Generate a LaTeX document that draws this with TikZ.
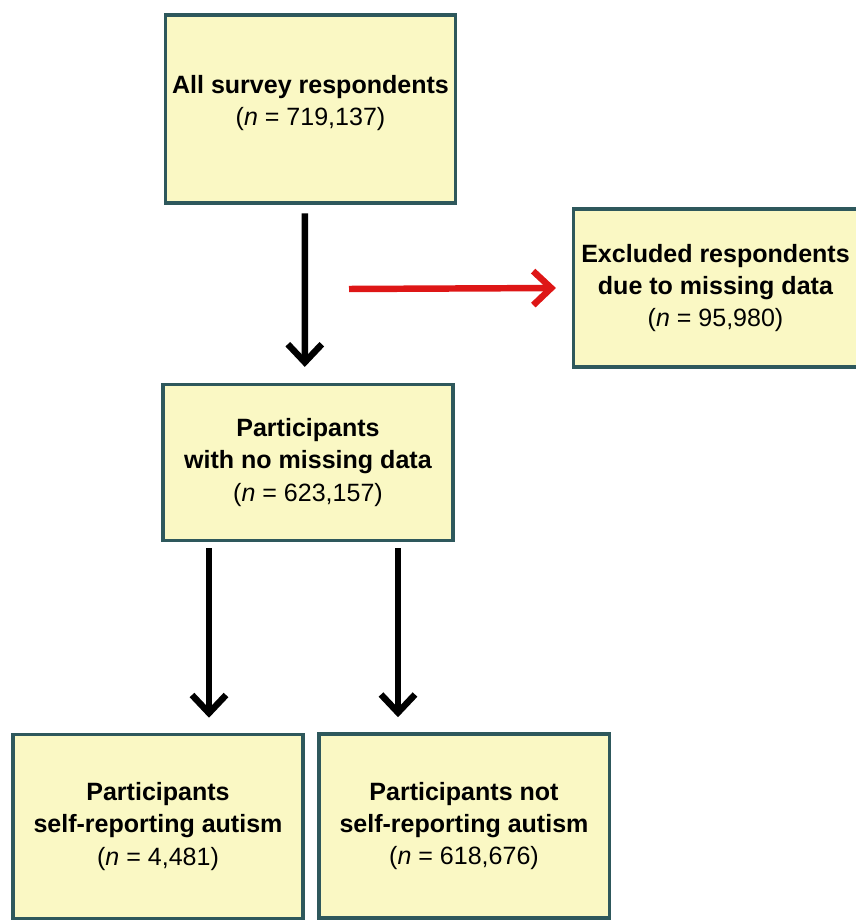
\documentclass[tikz,border=0pt]{standalone}
\usepackage{fontspec}
\setmainfont{Liberation Sans}
\usepackage{tikz}
\usetikzlibrary{calc,positioning}
\usetikzlibrary{arrows.meta}
\tikzset{>={Straight Barb[width=8.5mm,length=4.5mm]}}
\definecolor{boxfill}{RGB}{250,248,196}
\definecolor{boxline}{RGB}{46,88,92}
\definecolor{exclred}{RGB}{222,22,22}

\begin{document}
\begin{tikzpicture}[x=0.025cm,y=-0.025cm]
    \tikzstyle{fbox} = [draw=boxline, fill=boxfill, line width=2.2pt, rectangle, align=center, inner sep=0pt, minimum width=7.25cm, font=\fontsize{17.8}{22.8}\selectfont]
    \tikzstyle{farrow} = [line width=4.6pt, ->]
    \useasboundingbox (0,0) rectangle (855,924);
    \node[fbox, minimum height=4.7cm] (all) at (310.5,109) {\textbf{All survey respondents}\\(\textit{n} = 719,137)\\[-10pt]\mbox{}};
    \node[fbox, minimum width=7.1cm, minimum height=3.95cm] (excl) at (715.5,288) {\textbf{Excluded respondents}\\\textbf{due to missing data}\\(\textit{n} = 95,980)};
    \node[fbox, minimum height=3.9cm] (nomiss) at (308,462.5) {\textbf{Participants}\\\textbf{with no missing data}\\(\textit{n} = 623,157)};

    \node[fbox, minimum height=4.6cm] (selfyes) at (158,826.5) {\textbf{Participants}\\\textbf{self-reporting autism}\\(\textit{n} = 4,481)};
    \node[fbox, minimum height=4.6cm] (selfno) at (464,826) {\textbf{Participants not}\\\textbf{self-reporting autism}\\(\textit{n} = 618,676)};

    \coordinate (redstart) at (349,289);
    \coordinate (lcol) at (209,0);
    \coordinate (rcol) at (398,0);

    \draw[farrow] ([xshift=-0.14cm, yshift=-0.22cm]all.south) to ([xshift=-0.08cm, yshift=0.4cm]nomiss.north);
    \draw[farrow, exclred] (redstart) to ([xshift=-0.4cm]excl.west);

    \draw[farrow] ([yshift=-0.15cm]nomiss.south -| lcol) to ([yshift=0.38cm]selfyes.north -| lcol);
    \draw[farrow] ([yshift=-0.15cm]nomiss.south -| rcol) to ([yshift=0.38cm]selfno.north -| rcol);

  \end{tikzpicture}
\end{document}
